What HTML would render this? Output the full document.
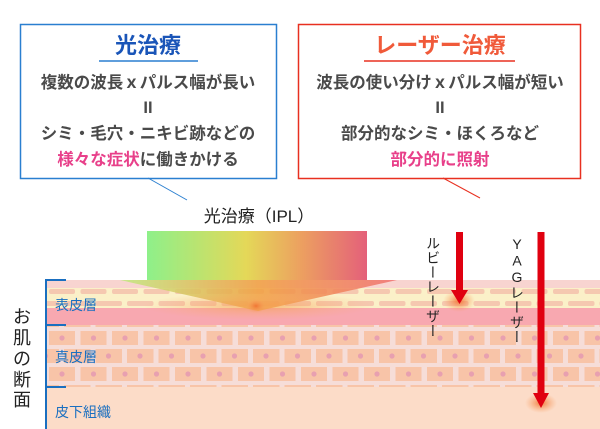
<!DOCTYPE html>
<html><head><meta charset="utf-8"><style>
body{margin:0;background:#fff;position:relative;width:600px;height:429px;overflow:hidden;}
svg{display:block;font-family:"Liberation Sans","Noto Sans CJK JP",sans-serif;}
.v{position:absolute;writing-mode:vertical-rl;text-orientation:upright;font-family:"Liberation Sans","Noto Sans CJK JP",sans-serif;font-size:14px;line-height:14px;color:#222;letter-spacing:0.6px;}
</style></head><body>
<svg width="600" height="429" viewBox="0 0 600 429" xmlns="http://www.w3.org/2000/svg">
<defs>
<linearGradient id="ipl" x1="0" x2="1" y1="0" y2="0">
<stop offset="0" stop-color="#8ef08a"/><stop offset="0.45" stop-color="#e4d858"/><stop offset="0.7" stop-color="#eca060"/><stop offset="1" stop-color="#e4607a"/>
</linearGradient>
<linearGradient id="tri" x1="0" x2="1"><stop offset="0" stop-color="#c0ea80"/><stop offset="0.5" stop-color="#f0a040"/><stop offset="1" stop-color="#f07070"/></linearGradient>
<radialGradient id="glow"><stop offset="0" stop-color="#f07030" stop-opacity="0.9"/><stop offset="1" stop-color="#f8a060" stop-opacity="0"/></radialGradient>
<radialGradient id="glow2"><stop offset="0" stop-color="#f5a050" stop-opacity="0.8"/><stop offset="1" stop-color="#f8b070" stop-opacity="0"/></radialGradient>
<pattern id="eb1" x="49" y="289" width="31.5" height="20" patternUnits="userSpaceOnUse">
<rect x="0" y="0" width="26" height="5" rx="2" fill="#f5c8b0"/><rect x="15" y="12" width="26" height="5" rx="2" fill="#f5c8b0"/><rect x="-16" y="12" width="26" height="5" rx="2" fill="#f5c8b0"/>
</pattern>
<pattern id="db" x="49" y="331" width="31.5" height="36" patternUnits="userSpaceOnUse">
<rect x="0" y="0" width="26" height="14" fill="#f8c4a8"/><circle cx="13" cy="7" r="2.6" fill="#e8a0b0"/>
<rect x="15" y="18" width="26" height="14" fill="#f8c4a8"/><circle cx="28" cy="25" r="2.6" fill="#e8a0b0"/>
<rect x="-16" y="18" width="26" height="14" fill="#f8c4a8"/><circle cx="-3" cy="25" r="2.6" fill="#e8a0b0"/>
</pattern>
</defs>

<rect x="20.5" y="24.5" width="256" height="154" fill="#fff" stroke="#2a7fd0" stroke-width="1.5"/>
<text x="148" y="53" text-anchor="middle" font-size="22" font-weight="bold" fill="#1a55b8">光治療</text>
<line x1="99" y1="61" x2="198" y2="61" stroke="#2a7fd0" stroke-width="1.5"/>
<g font-size="16.5" font-weight="bold" fill="#4a4a4a" text-anchor="middle">
<text x="148" y="88">複数の波長ｘパルス幅が長い</text>
<text x="148" y="113">II</text>
<text x="148" y="139">シミ・毛穴・ニキビ跡などの</text>
<text x="148" y="165"><tspan fill="#e8408a">様々な症状</tspan>に働きかける</text>
</g>
<line x1="148" y1="178" x2="187" y2="200" stroke="#2a7fd0" stroke-width="1"/>

<rect x="298.5" y="24.5" width="282" height="154" fill="#fff" stroke="#e83020" stroke-width="1.5"/>
<text x="440" y="53" text-anchor="middle" font-size="22" font-weight="bold" fill="#f05a3a">レーザー治療</text>
<line x1="364" y1="61" x2="515" y2="61" stroke="#e83020" stroke-width="1.5"/>
<g font-size="16.5" font-weight="bold" fill="#4a4a4a" text-anchor="middle">
<text x="440" y="88">波長の使い分けｘパルス幅が短い</text>
<text x="440" y="113">II</text>
<text x="440" y="139">部分的なシミ・ほくろなど</text>
<text x="440" y="165" fill="#e8408a">部分的に照射</text>
</g>
<line x1="443" y1="178" x2="480" y2="198" stroke="#e83020" stroke-width="1"/>

<text x="259" y="222" text-anchor="middle" font-size="17" fill="#222">光治療（IPL）</text>

<rect x="46" y="280" width="554" height="8" fill="#f8d4d0"/>
<rect x="46" y="288" width="554" height="20" fill="#fbf0c8"/>
<rect x="46" y="288" width="554" height="20" fill="url(#eb1)"/>
<rect x="46" y="308" width="554" height="17" fill="#f8a8b0"/>
<rect x="46" y="325" width="554" height="62" fill="#f6ddd8"/>
<rect x="46" y="325" width="554" height="62" fill="url(#db)"/>
<rect x="46" y="387" width="554" height="42" fill="#fcdcc8"/>

<rect x="147" y="231" width="220" height="49" fill="url(#ipl)"/>
<polygon points="120,280 397,280 258,311" fill="url(#tri)" opacity="0.85"/>
<ellipse cx="258" cy="306" rx="115" ry="14" fill="url(#glow2)" opacity="0.85"/>
<ellipse cx="256" cy="306" rx="10" ry="7" fill="url(#glow)"/>

<ellipse cx="459" cy="301" rx="16" ry="11" fill="url(#glow)"/>
<rect x="456" y="232" width="7" height="58" fill="#e00010"/>
<polygon points="451,290 468,290 459.5,304" fill="#e00010"/>
<ellipse cx="541" cy="403" rx="16" ry="10" fill="url(#glow)"/>
<rect x="537.5" y="232" width="7" height="163" fill="#e00010"/>
<polygon points="533,393 549,393 541,408" fill="#e00010"/>

<path d="M66,280 H46 V429 M46,325 H66 M46,387 H66" stroke="#1a6fc0" stroke-width="2" fill="none"/>
<g font-size="18" fill="#222" text-anchor="middle">
<text x="22" y="323">お</text><text x="22" y="344">肌</text><text x="22" y="365">の</text><text x="22" y="386">断</text><text x="22" y="406">面</text>
</g>
<g font-size="14" fill="#1a6fc0">
<text x="55" y="310">表皮層</text>
<text x="55" y="362">真皮層</text>
<text x="55" y="417">皮下組織</text>
</g>
</svg>
<div class="v" style="left:426px;top:236px;">ルビーレーザー</div>
<div class="v" style="left:510px;top:236px;">YAGレーザー</div>
</body></html>
